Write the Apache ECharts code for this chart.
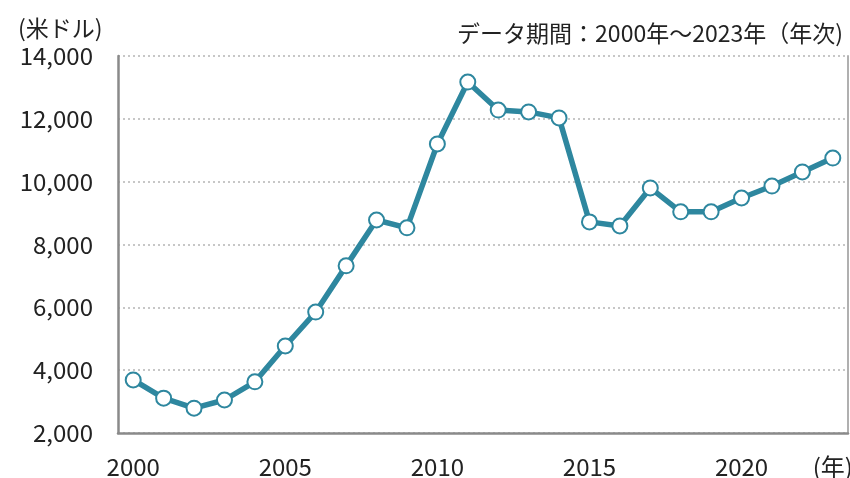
<!DOCTYPE html>
<html>
<head>
<meta charset="utf-8">
<script src="https://cdn.jsdelivr.net/npm/echarts@6/dist/echarts.min.js"></script>
<style>
  html, body { margin: 0; padding: 0; background: #fff; }
  #chart { width: 850px; height: 478px; }
</style>
</head>
<body>
<div id="chart"></div>
<script>
// data
const years = ['2000','2001','2002','2003','2004','2005','2006','2007','2008','2009','2010','2011',
               '2012','2013','2014','2015','2016','2017','2018','2019','2020','2021','2022','2023'];
const values = [3690, 3110, 2790, 3050, 3630, 4770, 5850, 7320, 8780, 8530, 11200, 13170,
                12280, 12220, 12030, 8720, 8590, 9800, 9040, 9040, 9480, 9860, 10310, 10750];
// shown x tick labels ('' = hidden)
const xLabels = ['2000','','','','','2005','','','','','2010','','','','','2015','','','','','2020','','','(年)'];
const yTicks = [2000, 14000, 2000]; // min, max, step

const font = '"Noto Sans CJK JP", "Noto Sans", sans-serif';
const axisGray = '#8a8a8a';

const chart = echarts.init(document.getElementById('chart'));
chart.setOption({
  animation: false,
  textStyle: { fontFamily: font },
  title: [
    {
      text: '(米ドル)', left: 13, top: 12,
      textStyle: { fontSize: 23, fontWeight: 'normal', color: '#222', fontFamily: font }
    },
    {
      text: 'データ期間：2000年～2023年（年次)', right: 2, top: 17,
      textStyle: { fontSize: 23, fontWeight: 'normal', color: '#222', fontFamily: font }
    }
  ],
  grid: { left: 118, right: 2, top: 56, bottom: 45, outerBoundsMode: 'none' },
  xAxis: {
    type: 'category',
    data: years,
    boundaryGap: true,
    axisLine: { lineStyle: { color: axisGray, width: 2.5 } },
    axisTick: { show: false },
    axisLabel: {
      interval: 0, margin: 22, fontSize: 24, color: '#222',
      formatter: (v, i) => xLabels[i]
    }
  },
  yAxis: [
    {
      type: 'value',
      min: yTicks[0], max: yTicks[1], interval: yTicks[2],
      axisLine: { show: true, lineStyle: { color: axisGray, width: 2.5 } },
      axisTick: { show: false },
      axisLabel: {
        margin: 25, fontSize: 24, color: '#222',
        formatter: v => v.toLocaleString('en-US')
      },
      splitLine: { lineStyle: { type: [2, 3], color: '#b5b5b5', width: 1.5 } }
    },
    {
      type: 'value', position: 'right',
      min: yTicks[0], max: yTicks[1], interval: yTicks[2],
      axisLine: { show: true, lineStyle: { color: '#b0b0b0', width: 2 } },
      axisTick: { show: false },
      axisLabel: { show: false },
      splitLine: { show: false }
    }
  ],
  series: [{
    type: 'line',
    data: values,
    symbol: 'circle',
    symbolSize: 15,
    lineStyle: { color: '#2e879f', width: 5.5 },
    itemStyle: { color: '#ffffff', borderColor: '#2e879f', borderWidth: 2 }
  }]
});
</script>
</body>
</html>
